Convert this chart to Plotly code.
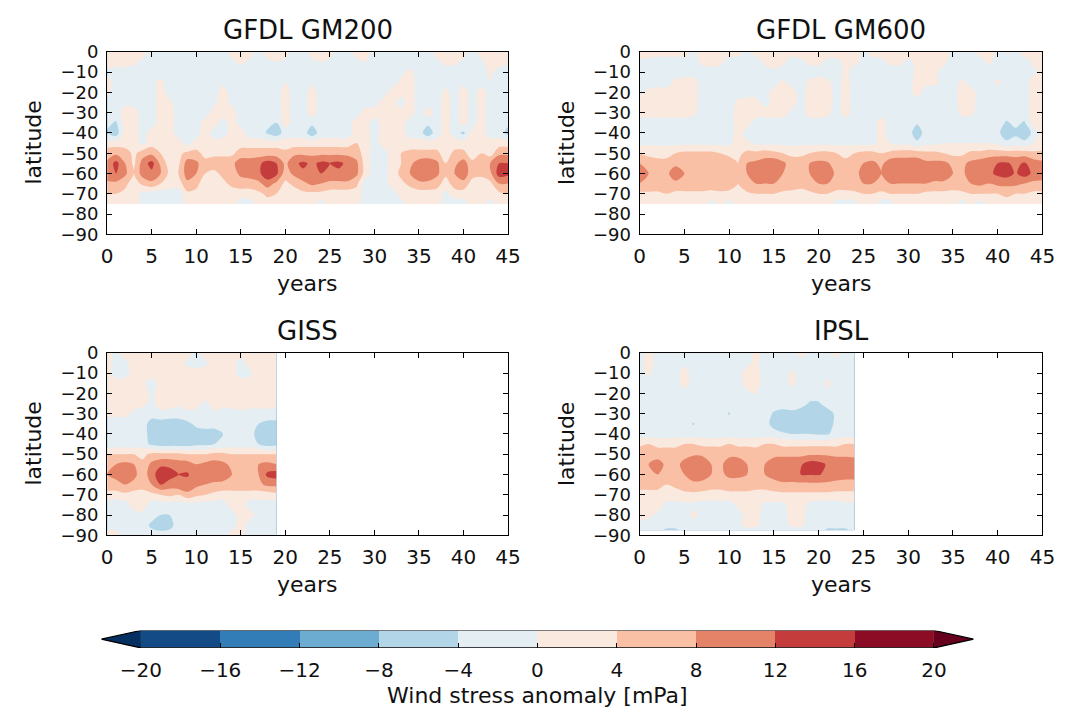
import plotly.graph_objects as go

# ---------------- data ----------------
levels = [-20, -16, -12, -8, -4, 0, 4, 8, 12, 16, 20]
level_labels = ["−20", "−16", "−12", "−8", "−4", "0", "4", "8", "12", "16", "20"]
band_mid = [-18, -14, -10, -6, -2, 2, 6, 10, 14, 18]

x_ticks = [0, 5, 10, 15, 20, 25, 30, 35, 40, 45]
y_ticks = [0, -10, -20, -30, -40, -50, -60, -70, -80, -90]
y_ticklabels = ["0", "−10", "−20", "−30", "−40", "−50", "−60", "−70", "−80", "−90"]

years_gfdl = list(range(46))
years_giss = list(range(20))
years_ipsl = list(range(25))
lat_gfdl = [0, -5, -10, -15, -20, -25, -30, -35, -40, -45, -50, -55, -60, -65, -70, -75]
lat_giss = [0, -5, -10, -15, -20, -25, -30, -35, -40, -45, -50, -55, -60, -65, -70, -75, -80, -85, -90]
lat_ipsl = [0, -5, -10, -15, -20, -25, -30, -35, -40, -45, -50, -55, -60, -65, -70, -75, -80, -85, -87.5]

gm200 = [
    [2,2,2,2,2,-2,-2,-2,-2,-2, -2,-2,-2,-2,2,2,2,-2,2,2, 2,-2,-2,2,2,2,-2,-2,2,2, -2,-2,-2,-2,-2,-2,-2,2,2,2, 2,-2,2,2,2,2],
    [2,2,2,1,-1,-2,-2,-2,-2,-2, -2,-2,-2,-2,-1,1,-1,-2,-1,0, -1,-2,-2,-1,0,-1,-2,-2,-1,0, -2,-2,-2,-2,-2,-2,-2,-1,1,1, -1,-2,-1,2,2,1],
    [-1,-2,-2,-2,-2,-2,-2,-2,-2,-2, -2,-2,-2,-2,-2,-2,-2,-2,-2,-2, -2,-2,-2,-2,-2,-2,-2,-2,-2,-2, -2,-2,-2,-1,1,-2,-2,-2,-2,-2, -2,-2,-2,1,-2,-2],
    [2,-2,-2,-2,-2,-1,1,-2,-2,-2, -2,-2,-2,-1,-2,-2,-2,-2,-2,-2, 0,-2,-2,-1,-2,-2,-2,-2,-2,-2, -2,-2,-2,1,2,-2,-2,-2,-1,-2, -1,-2,-2,0,-2,-2],
    [1,-2,-2,-2,-2,-2,2,-2,-2,-2, -2,-2,-2,2,-2,-2,-2,-2,-2,-2, 2,-2,-2,2,-2,-2,-2,-2,-2,-2, -2,-2,2,2,2,-2,-2,-2,1,-2, 2,-2,2,-2,-2,-2],
    [-2,-2,-1,-2,-2,-2,2,1,-2,-2, -2,-2,-1,2,-1,-2,-2,-2,-2,-2, 2,-2,-2,2,-2,-2,-2,-2,-2,-2, -2,2,2,-2,2,-2,-2,-2,2,-2, 2,-2,2,-2,-2,-2],
    [-2,-2,2,2,-2,-2,2,2,-2,-2, -2,-2,2,2,2,-2,-2,-2,-2,-2, 2,-2,-2,2,-2,-2,-2,-2,-2,2, 2,2,2,2,2,-2,2,-2,2,-2, 2,-2,2,-2,-2,-2],
    [-3,-4.5,2,2,-2,-2,2,2,-2,-2, -2,2,2,-2,2,-2,-2,-2,-3,-4, 2,-2,-2,-3,-2,-2,-2,-2,2,2, -2,2,2,2,-2,-2,-3,-2,2,-2, 2,-2,2,-2,-2,-3],
    [-4.5,-6.5,2,2,-2,2,2,2,-2,-2, -2,2,-2,-2,2,2,-2,-2,-4.5,-6.5, -2,-2,-2,-6.5,-2,-2,-2,-2,2,2, -2,2,2,2,-2,-2,-6.5,-2,2,-2, -5,2,2,-2,-2,-5.5],
    [2,2,2,2,-1,2,2,2,2,-2, 2,2,2,2,2,2,2,2,2,2, 2,2,2,2,2,2,2,2,4,2, -2,2,2,2,2,2,2,2,2,2, 2,2,2,2,2,2],
    [6,7,6,3,6,7,4,2,3,5, 5,3,3,3,3,6,6,6,6,6, 5,7,7,7,7,7,7,7,6,2, -2,-2,2,4,5,5,5,5,2,5, 5,2,4,2,7,7],
    [9,13.5,8,3,10,13.5,7,2,3,10, 9,5,6,6,7,10,10,11,14,12, 7,11,13,11,13,12,13,11,9,2, -2,-2,2,4,7,10,11,9,4,7, 10,5,6,8,12,12],
    [11,12,9,4,10,11,8,3,4,10, 8,4,3,5,6,9,10,11,15,13, 6,9,11,11,12,11,11,11,9,2, -2,-2,2,5,8,11,11,9,5,8, 10,6,5,7,14,13],
    [7,7,5,2,5,7,4,2,2,7, 5,2,2,3,5,6,6,7,10,7, 3,5,7,9,8,7,7,7,5,-2, -2,-2,2,3,5,7,7,6,2,6, 7,2,2,3,8,8],
    [4,4,3,2,-1,-2,-2,-2,-2,3, 3,2,2,2,2,2,2,3,5,4, 2,2,3,3,3,2,2,2,2,-2, -2,-2,-2,2,2,2,2,2,-1,2, 2,2,2,2,3,4],
    [2,2,2,2,-1,-2,-2,-2,-2,2, 2,2,2,2,2,-2,-2,2,2,2, 2,2,2,2,-2,2,2,2,2,-2, -2,-2,-2,-2,2,2,2,2,-2,-2, -2,2,2,-2,2,2],
]

gm600 = [
    [2,2,2,2,2,2,-1,2,2,2, 2,2,-1,2,2,2,2,2,2,2, 2,2,2,2,2,-1,2,2,2,2, 2,2,2,2,2,-1,-2,-2,2,2, -1,-2,-1,2,2,2],
    [-1,-1,-2,-2,-2,-2,-2,1,2,1, -2,-2,-2,-2,1,2,1,-2,-1,1, 1,-1,-1,1,1,-1,-2,-1,1,1, -1,1,2,2,1,-2,-2,-2,-2,1, -2,-2,-2,-2,1,2],
    [-2,-2,-2,-2,-2,-2,-2,-2,-2,-2, -2,-2,-2,-2,-2,-1,-2,-2,-2,-2, -2,-2,-2,1,-2,-2,-2,-2,-2,-2, -2,1,2,1,-2,-2,-2,-2,-2,-2, -2,-2,-2,-2,-1,1],
    [-2,-2,-2,-2,1,2,2,-2,-2,-2, -2,-2,-2,-2,-2,-2,1,-2,-2,1, 2,1,-2,2,-2,-2,-2,-2,-2,-2, -2,2,1,1,-2,-2,1,-2,-2,-2, 1,-2,-2,-2,2,2],
    [-1,1,2,2,2,2,2,-2,-2,-2, -2,-2,-2,-2,-2,2,2,2,-2,2, 2,2,-2,2,-2,-2,-2,-2,-2,-2, -2,2,-2,-2,-2,-2,2,2,-2,-2, -2,-2,-2,-2,2,2],
    [2,2,2,2,2,2,2,-2,-2,-2, -2,1,2,2,-2,2,2,2,-2,2, 2,2,-2,2,-2,-2,-2,-2,-2,-2, -2,-2,-2,-2,-2,-2,2,2,-2,-2, -2,-2,-2,-2,2,2],
    [2,2,2,2,2,2,1,-2,-2,-2, -2,2,2,2,2,2,2,-1,-2,2, 2,1,-2,2,-2,-2,-2,-2,-2,-2, -2,-2,-2,-2,-2,-2,1,1,-2,-2, -2,-2,-2,-2,2,2],
    [-2,-2,-2,-2,-2,-2,-2,-2,-2,-2, -2,2,2,-2,-2,-2,-2,-2,-2,-2, -2,-2,-2,-2,-2,-2,-2,2,-2,-2, -2,-3.5,-2,-2,-2,-2,-2,-2,-2,-2, -2,-4.5,-3,-4.5,2,2],
    [-2,-2,-2,-2,-2,-2,-2,-2,-2,-2, -2,2,-2,-2,-2,-2,-2,-2,-2,-2, -2,-2,-2,-2,-2,-2,-2,2,-2,-2, -2,-6.5,-2,-2,-2,-2,-2,-2,-2,-2, -3,-6.5,-5,-6.5,-3,2],
    [-1,-1,-1,-1,-1,-1,-1,-1,-1,-1, -1,2,1,-1,-1,-1,-1,-1,-1,-1, -1,-1,-1,-1,-1,-1,-1,1,0,-1, -1,-3,-1,-1,0,0,0,0,0,0, -1,-3,-2,-3,0,1],
    [4,3,3,3,4,5,5,5,5,4, 3,3,5,5,6,5,4,3,3,4, 5,5,4,3,4,5,5,4,5,6, 6,6,5,5,4,3,3,5,5,6, 6,6,6,6,5,5],
    [8,6,5,5,7,8,8,8,8,7, 6,4,8,9,10,11,9,6,6,8, 9,8.5,6,5,7,8,9,7,10.5,10.5, 10.5,10.5,9,9,9,7,7,9,10,11, 12,12.5,11,12.5,10,9],
    [9,8,7,7,10.5,8,8,8,7,8, 6,4,8,10.5,9,10.5,8,7,7,8, 10,10.5,7,6,7,9,10.5,8,11,11, 11,11,11,11,11,8,7,10,11,11, 13,14,11.5,14,11,10],
    [8,8,7,8,7,7,7,7,6,7, 6,4,8,8,8,8,7,6,5,7, 8,8,6,6,7,8,8,7,8,8, 8,8,8,7,7,6,7,8,9,8, 9,9,9,8,7,7],
    [3,3,3,4,3,3,3,3,3,3, 3,2,3,4,4,4,3,3,3,3, 4,4,3,3,3,4,4,3,4,4, 4,4,3,3,3,3,3,4,4,4, 4,5,4,4,3,3],
    [2,2,2,2,2,2,2,2,-2,2, -2,2,2,2,2,2,2,2,2,2, 2,2,-2,-2,-2,2,2,-2,-2,2, 2,2,2,2,2,2,-2,2,-2,2, 2,2,2,2,2,2],
]

giss = [
    [2,-1,2,2,2,2,2,2,2,2, -1,2,2,2,2,2,2,2,2,2],
    [2,-2,-1,2,2,2,2,2,2,-1, -2,-1,2,2,2,-2,2,2,2,2],
    [2,-2,-2,2,2,2,2,2,2,2, 2,2,2,2,2,-2,-1,2,2,2],
    [2,2,2,2,1,-2,2,2,2,2, 2,2,2,2,2,2,2,2,2,2],
    [2,2,2,2,2,-1,2,2,2,2, 2,2,2,2,2,2,2,2,2,2],
    [2,2,2,2,1,-1,2,2,1,2, 2,-1,2,2,2,2,2,2,2,1],
    [1,1,1,-1,-2,-2,-1,-2,-2,-1, -2,-2,-1,-2,-2,-1,-2,-2,-2,-2],
    [-2,-2,-2,-2,-2,-6,-6,-6,-6,-5, -3,-2,-2,-2,-2,-2,-2,-4,-5,-5],
    [-2,-2,-2,-2,-2,-6,-7,-6,-6,-6, -6,-6,-6,-4,-2,-2,-2,-6,-6,-6],
    [-2,-2,-2,-2,-2,-5,-6,-6,-6,-6, -5,-5,-4,-3,-2,-2,-2,-4,-6,-5],
    [4,4,4,4,3,5,5,5,5,4, 4,4,5,5,4,4,4,4,4,4],
    [7,8,9,8,5,9,11,11,10,10, 8,9,10,9,7,7,7,8,9,8],
    [8,9,11,9,6,10,15,14,12,12.5, 10,9,11,10,8,7,7,8,13,14],
    [7,7,8,7,5,8,12,10,11,10.5, 9,8,7,7,7,7,7,7,9,9],
    [2,2,3,2,3,3,4,5,4,7, 5,4,3,2,2,2,2,2,2,3],
    [-2,-2,-2,2,2,-2,-2,-2,-2,-2, -2,-2,-2,-2,2,2,-2,-2,-2,-2],
    [-2,-2,-2,-2,-1,-2,-4,-4,-2,-2, -2,-2,-2,-2,-2,2,2,-2,-2,-2],
    [-2,-2,-2,-2,-2,-5,-6.5,-5.5,-2,-2, -4,-2,-2,-2,-2,2,-2,-2,-2,-2],
    [2,2,-2,-2,-2,-2,-2,-2,-2,-2, -2,-2,-2,-2,2,2,-2,-2,-2,-2],
]

ipsl = [
    [-2,2,-2,-2,-2,-2,-2,-2,-2,-2, -2,-2,-2,2,-2,-2,-2,-2,2,-2, -2,-2,2,-2,-2],
    [-2,2,-2,-2,-2,-1,-2,-2,-2,-2, -2,-2,-1,1,-2,-2,-2,-2,-2,-2, -2,-2,-2,-2,-2],
    [-2,1,-2,-2,-2,2,-2,-2,-1,-2, -2,-2,2,2,-2,-2,-2,1,-2,-2, -2,-2,-2,-2,-2],
    [-2,-2,-2,-2,-2,2,-2,-2,0,-2, -2,-2,2,2,-2,-2,-2,1,-2,-2, -2,1,-2,-2,-2],
    [-2,-2,-2,-2,-2,-2,-2,-2,-2,-2, -2,-2,-1,0,-2,-2,-2,-2,-2,-2, -2,-1,-2,-2,-2],
    [-2,-2,-2,-2,-2,-2,-2,-2,-2,-2, -2,-2,-2,-2,-2,-2,-2,-2,-2,-4.5, -4.5,-2,-2,-2,-2],
    [-2,-2,-2,-2,-2,-2,-2,-2,-2,-2, -4.3,-2,-2,-2,-2,-4.5,-5.5,-5,-6.5,-7, -7,-6,-3,-2,-2],
    [-2,-2,-2,-2,-2,-2,-4.3,-2,-2,-2, -2,-2,-2,-2,-2,-6,-6.5,-6,-6.5,-7, -7,-6.5,-2.5,-2,-2],
    [-2,-2,-2,-2,-2,-2,-2,-2,-2,-2, -2,-2,-2,-2,-2,-2,-3.5,-4,-4,-4, -4.5,-4.5,-2,-2,-2],
    [3,4,3,3,3,4,4,3,3,3, 4,3,3,3,4,4,3,3,3,3, 3,3,3,4,4],
    [7,7,6,6,6,7,7.5,7.5,7,7, 7,7,7,6,7,7,7,7,7,7.5, 7.5,7.5,7,7,7],
    [7,8,10,7,7,9,11,10,8,7, 10,10,8,7,8,10,11,11,11.5,14, 13.5,11.5,11,11,10],
    [7,7,8,7,6,8,10,11,8,7, 9,9,8,7,8,10,11,11,12,12.3, 12.3,11,11,10,10],
    [5,5,5,4,5,6,7,6,5,5, 6,6,6,5,5,6,7,7,7,7, 7,7,6,6,6],
    [3,3,3,2,2,3,3,3,3,3, 3,3,3,3,3,3,3,3,3,3, 3,3,3,3,3],
    [2,2,2,-1,-1,-1,-1,-2,-2,-2, -2,1,2,2,-1,-1,-1,2,2,-1, -2,-2,-2,-1,-1],
    [2,1,-1,-2,-2,-2,1,-1,-2,-2, -2,-2,2,2,-2,-2,-2,2,2,-2, -2,-2,-1,-2,-2],
    [-2,-2,-2,-2,-2,-2,-2,-2,-2,-2, -2,-2,2,1,-2,-2,-2,1,1,-2, -2,-2,-2,-2,-2],
    [-2,-2,-2,-5,-5,-2,-2,-2,-2,-2, -2,-2,-2,-2,-2,-2,-2,-2,-2,-2, -2,-5,-5,-5,-2],
]

panel_titles = ["GFDL GM200", "GFDL GM600", "GISS", "IPSL"]
cbar_title = "Wind stress anomaly [mPa]"

# ---------------- style ----------------
W, H = 1078, 723
band_colors = [
    "#053061",              # < -20
    "rgb(19,75,135)", "rgb(50,124,183)", "rgb(107,172,208)", "rgb(178,213,231)",
    "rgb(228,238,243)", "rgb(250,233,223)", "rgb(249,192,165)", "rgb(229,131,104)",
    "rgb(196,60,60)", "rgb(141,12,37)",
    "#67001f",              # > 20
]


def stepped(colors):
    m = len(colors)
    cs = []
    for k, c in enumerate(colors):
        cs.append([k / m, c])
        cs.append([(k + 1) / m, c])
    return cs


colorscale = stepped(band_colors)
# no field value lies below -20; the contour background (drawn with the "under"
# colour) is made white so its anti-aliased outer edge does not show as a line
contour_colorscale = stepped(["#ffffff"] + band_colors[1:])

FONT = "DejaVu Sans"
TXT = "#111111"


def px_x(p):
    return p / W


def px_y(p):
    return 1 - p / H


# panel pixel boxes: (left, right, top, bottom)
boxes = [(103, 511, 42, 230), (645, 1055, 42, 230), (103, 511, 352, 540), (645, 1055, 352, 540)]
datasets = [(years_gfdl, lat_gfdl, gm200), (years_gfdl, lat_gfdl, gm600),
            (years_giss, lat_giss, giss), (years_ipsl, lat_ipsl, ipsl)]

fig = go.Figure()
annotations = []
layout_axes = {}
step = levels[1] - levels[0]

for i, ((xv, yv, zv), box) in enumerate(zip(datasets, boxes)):
    k = "" if i == 0 else str(i + 1)
    fig.add_trace(go.Contour(
        x=xv, y=yv, z=zv, xaxis="x" + k, yaxis="y" + k,
        colorscale=contour_colorscale, showscale=False,
        contours=dict(start=levels[0], end=levels[-1], size=step, coloring="fill", showlines=False),
        line=dict(width=0, smoothing=0.9),
        hoverinfo="skip",
    ))
    l, r, t, b = box
    common = dict(showline=True, linecolor="black", linewidth=1.3, mirror="allticks",
                  ticks="inside", ticklen=5, tickwidth=1, tickcolor="black",
                  showgrid=False, zeroline=False)
    layout_axes["xaxis" + k] = dict(common, domain=[px_x(l), px_x(r)], anchor="y" + k,
                                    range=[0, 45], tickvals=x_ticks, ticklabelstandoff=4,
                                    tickfont=dict(family=FONT, size=20, color=TXT))
    layout_axes["yaxis" + k] = dict(common, domain=[px_y(b), px_y(t)], anchor="x" + k,
                                    range=[-90, 0], tickvals=y_ticks, ticktext=y_ticklabels,
                                    ticklabelstandoff=4,
                                    tickfont=dict(family=FONT, size=18, color=TXT))
    cx = (l + r) / 2
    annotations.append(dict(text=panel_titles[i], x=px_x(cx), y=px_y(t - 22), xref="paper", yref="paper",
                            showarrow=False, xanchor="center", yanchor="middle",
                            font=dict(family=FONT, size=26, color=TXT)))
    annotations.append(dict(text="years", x=px_x(cx), y=px_y(b + 51), xref="paper", yref="paper",
                            showarrow=False, xanchor="center", yanchor="middle",
                            font=dict(family=FONT, size=22, color=TXT)))
    annotations.append(dict(text="latitude", x=px_x(l - 75), y=px_y((t + b) / 2), xref="paper", yref="paper",
                            showarrow=False, xanchor="center", yanchor="middle", textangle=-90,
                            font=dict(family=FONT, size=22, color=TXT)))

# ---------------- colorbar as its own axes ----------------
ext = 2
fig.add_trace(go.Heatmap(
    x=levels, y=[0, 1], z=[band_mid], xaxis="x5", yaxis="y5",
    colorscale=colorscale, zmin=levels[0] - ext, zmax=levels[-1] + ext,
    showscale=False, hoverinfo="skip",
))
layout_axes["xaxis5"] = dict(domain=[px_x(97), px_x(985)], anchor="y5",
                             range=[levels[0] - ext, levels[-1] + ext],
                             tickvals=levels, ticktext=level_labels,
                             ticks="inside", ticklen=5, tickcolor="black",
                             showline=False, showgrid=False, zeroline=False,
                             ticklabelstandoff=8,
                             tickfont=dict(family=FONT, size=20, color=TXT))
layout_axes["yaxis5"] = dict(domain=[px_y(656), px_y(638)], anchor="x5", range=[0, 1],
                             visible=False)

shapes = [
    dict(type="path", xref="x5", yref="y5",
         path=f"M {levels[0]},0 L {levels[0]-ext},0.5 L {levels[0]},1 Z",
         fillcolor=band_colors[0], line=dict(width=0)),
    dict(type="path", xref="x5", yref="y5",
         path=f"M {levels[-1]},0 L {levels[-1]+ext},0.5 L {levels[-1]},1 Z",
         fillcolor=band_colors[-1], line=dict(width=0)),
    dict(type="path", xref="x5", yref="y5",
         path=(f"M {levels[0]},0 L {levels[0]-ext},0.5 L {levels[0]},1 "
               f"L {levels[-1]},1 L {levels[-1]+ext},0.5 L {levels[-1]},0 Z"),
         fillcolor="rgba(0,0,0,0)", line=dict(width=1.2, color="black")),
]

annotations.append(dict(text=cbar_title, x=px_x(541), y=px_y(705), xref="paper", yref="paper",
                        showarrow=False, xanchor="center", yanchor="middle",
                        font=dict(family=FONT, size=22, color=TXT)))

fig.update_layout(
    width=W, height=H, margin=dict(l=0, r=0, t=0, b=0),
    paper_bgcolor="white", plot_bgcolor="white",
    showlegend=False, annotations=annotations, shapes=shapes,
    font=dict(family=FONT, color=TXT),
    **layout_axes,
)

fig.write_html("out.html")
